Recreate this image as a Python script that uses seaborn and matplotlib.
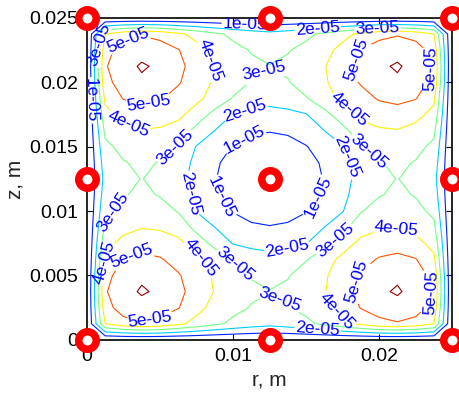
import numpy as np
import matplotlib
matplotlib.use('Agg')
import matplotlib.pyplot as plt
import seaborn as sns

# grid coordinates (m), 1.25 mm spacing
r_grid = [0, 0.00125, 0.0025, 0.00375, 0.005, 0.00625, 0.0075, 0.00875, 0.01, 0.01125, 0.0125,
          0.01375, 0.015, 0.01625, 0.0175, 0.01875, 0.02, 0.02125, 0.0225, 0.02375, 0.025]
z_grid = [0, 0.00125, 0.0025, 0.00375, 0.005, 0.00625, 0.0075, 0.00875, 0.01, 0.01125, 0.0125,
          0.01375, 0.015, 0.01625, 0.0175, 0.01875, 0.02, 0.02125, 0.0225, 0.02375, 0.025]

# field values, in units of 1e-05 (rows = z, cols = r)
field_1e5 = [
    [0, 0,   0,    0,    0,    0,    0,    0,    0,    0,    0,    0,    0,    0,    0,    0,    0,    0,    0,    0,   0],
    [0, 4.0, 4.6,  4.9,  4.7,  4.2,  3.7,  3.2,  2.8,  2.5,  2.3,  2.5,  2.8,  3.2,  3.7,  4.2,  4.7,  4.9,  4.6,  4.0, 0],
    [0, 4.6, 5.5,  5.7,  5.45, 5.05, 4.3,  3.7,  3.25, 2.95, 2.8,  2.95, 3.25, 3.7,  4.3,  5.05, 5.45, 5.7,  5.5,  4.6, 0],
    [0, 4.9, 5.7,  6.1,  5.85, 5.25, 4.6,  3.95, 3.5,  3.15, 3.02, 3.15, 3.5,  3.95, 4.6,  5.25, 5.85, 6.1,  5.7,  4.9, 0],
    [0, 4.7, 5.45, 5.85, 5.4,  5.1,  4.4,  3.9,  3.35, 2.95, 2.8,  2.95, 3.35, 3.9,  4.4,  5.1,  5.4,  5.85, 5.45, 4.7, 0],
    [0, 4.2, 5.05, 5.25, 5.1,  4.6,  4.3,  3.5,  2.95, 2.5,  2.3,  2.5,  2.95, 3.5,  4.3,  4.6,  5.1,  5.25, 5.05, 4.2, 0],
    [0, 3.7, 4.3,  4.6,  4.4,  4.3,  3.45, 2.75, 1.95, 1.75, 1.7,  1.75, 1.95, 2.75, 3.45, 4.3,  4.4,  4.6,  4.3,  3.7, 0],
    [0, 3.2, 3.7,  3.95, 3.9,  3.5,  2.75, 2.0,  1.5,  1.15, 1.05, 1.15, 1.5,  2.0,  2.75, 3.5,  3.9,  3.95, 3.7,  3.2, 0],
    [0, 2.8, 3.25, 3.5,  3.35, 2.95, 1.95, 1.5,  0.95, 0.65, 0.55, 0.65, 0.95, 1.5,  1.95, 2.95, 3.35, 3.5,  3.25, 2.8, 0],
    [0, 2.5, 2.95, 3.15, 2.95, 2.5,  1.75, 1.15, 0.65, 0.4,  0.2,  0.4,  0.65, 1.15, 1.75, 2.5,  2.95, 3.15, 2.95, 2.5, 0],
    [0, 2.3, 2.8,  3.02, 2.8,  2.3,  1.7,  1.05, 0.55, 0.2,  0.05, 0.2,  0.55, 1.05, 1.7,  2.3,  2.8,  3.02, 2.8,  2.3, 0],
    [0, 2.5, 2.95, 3.15, 2.95, 2.5,  1.75, 1.15, 0.65, 0.4,  0.2,  0.4,  0.65, 1.15, 1.75, 2.5,  2.95, 3.15, 2.95, 2.5, 0],
    [0, 2.8, 3.25, 3.5,  3.35, 2.95, 1.95, 1.5,  0.95, 0.65, 0.55, 0.65, 0.95, 1.5,  1.95, 2.95, 3.35, 3.5,  3.25, 2.8, 0],
    [0, 3.2, 3.7,  3.95, 3.9,  3.5,  2.75, 2.0,  1.5,  1.15, 1.05, 1.15, 1.5,  2.0,  2.75, 3.5,  3.9,  3.95, 3.7,  3.2, 0],
    [0, 3.7, 4.3,  4.6,  4.4,  4.3,  3.45, 2.75, 1.95, 1.75, 1.7,  1.75, 1.95, 2.75, 3.45, 4.3,  4.4,  4.6,  4.3,  3.7, 0],
    [0, 4.2, 5.05, 5.25, 5.1,  4.6,  4.3,  3.5,  2.95, 2.5,  2.3,  2.5,  2.95, 3.5,  4.3,  4.6,  5.1,  5.25, 5.05, 4.2, 0],
    [0, 4.7, 5.45, 5.85, 5.4,  5.1,  4.4,  3.9,  3.35, 2.95, 2.8,  2.95, 3.35, 3.9,  4.4,  5.1,  5.4,  5.85, 5.45, 4.7, 0],
    [0, 4.9, 5.7,  6.1,  5.85, 5.25, 4.6,  3.95, 3.5,  3.15, 3.02, 3.15, 3.5,  3.95, 4.6,  5.25, 5.85, 6.1,  5.7,  4.9, 0],
    [0, 4.6, 5.5,  5.7,  5.45, 5.05, 4.3,  3.7,  3.25, 2.95, 2.8,  2.95, 3.25, 3.7,  4.3,  5.05, 5.45, 5.7,  5.5,  4.6, 0],
    [0, 4.0, 4.6,  4.9,  4.7,  4.2,  3.7,  3.2,  2.8,  2.5,  2.3,  2.5,  2.8,  3.2,  3.7,  4.2,  4.7,  4.9,  4.6,  4.0, 0],
    [0, 0,   0,    0,    0,    0,    0,    0,    0,    0,    0,    0,    0,    0,    0,    0,    0,    0,    0,    0,   0],
]
levels_1e5 = [1, 2, 3, 4, 5, 6]

# red ring markers
marker_r = [0, 0.0125, 0.025, 0, 0.0125, 0.025, 0, 0.0125, 0.025]
marker_z = [0, 0, 0, 0.0125, 0.0125, 0.0125, 0.025, 0.025, 0.025]

x_ticks = [0, 0.01, 0.02]
x_ticklabels = ['0', '0.01', '0.02']
y_ticks = [0, 0.005, 0.01, 0.015, 0.02, 0.025]
y_ticklabels = ['0', '0.005', '0.01', '0.015', '0.02', '0.025']

# where the contour labels sit (layout only)
label_spots = [
    (0.0009, 0.0229), (0.0028, 0.0234), (0.0042, 0.0185), (0.0027, 0.0163), (0.0084, 0.0217),
    (0.0011, 0.0060), (0.0031, 0.0064), (0.0043, 0.0016), (0.0074, 0.0058),
    (0.0199, 0.0241), (0.0186, 0.0217), (0.0237, 0.0210), (0.0181, 0.0181),
    (0.0212, 0.0085), (0.0185, 0.0045), (0.0236, 0.0037), (0.0171, 0.0022),
    (0.0062, 0.0148), (0.0194, 0.0148), (0.0171, 0.0076), (0.0100, 0.0057),
    (0.0120, 0.0212), (0.0018, 0.0099), (0.0132, 0.0031),
    (0.0108, 0.0179), (0.0068, 0.0113), (0.0178, 0.0142), (0.0137, 0.0070),
    (0.0158, 0.0241), (0.0158, 0.0010), (0.0003, 0.0186),
    (0.0108, 0.0155), (0.0091, 0.0110), (0.0158, 0.0111), (0.0108, 0.0243),
]

sns.set_style('ticks', {'xtick.direction': 'in', 'ytick.direction': 'in',
                        'axes.edgecolor': 'black'})
plt.rcParams['font.family'] = ['Liberation Sans', 'DejaVu Sans']

fig = plt.figure(figsize=(4.6, 3.98), dpi=100)
ax = fig.add_axes([0.189, 0.146, 0.794, 0.809])

F = np.array(field_1e5) * 1e-5
cs = ax.contour(r_grid, z_grid, F, levels=np.array(levels_1e5) * 1e-5, cmap='jet',
                vmin=0, vmax=F.max(), linewidths=0.8)
ax.clabel(cs, fmt='%g', colors='blue', fontsize=12.5, inline=True, inline_spacing=1,
          manual=label_spots)

ax.plot(marker_r, marker_z, 'o', linestyle='none', ms=12.6, mew=5.4,
        mec='red', mfc='white', clip_on=False, zorder=5)

ax.set_xlim(0, 0.025)
ax.set_ylim(0, 0.025)
ax.set_xticks(x_ticks)
ax.set_xticklabels(x_ticklabels)
ax.set_yticks(y_ticks)
ax.set_yticklabels(y_ticklabels)
ax.tick_params(direction='in', top=True, right=True, length=4, width=0.8,
               labelsize=14, colors='black', pad=6)
for s in ax.spines.values():
    s.set_linewidth(1.2)
    s.set_color('black')

ax.set_xlabel('r, m', fontsize=15, labelpad=4)
ax.set_ylabel('z, m', fontsize=15, labelpad=4)

fig.savefig('out.png', dpi=100)
